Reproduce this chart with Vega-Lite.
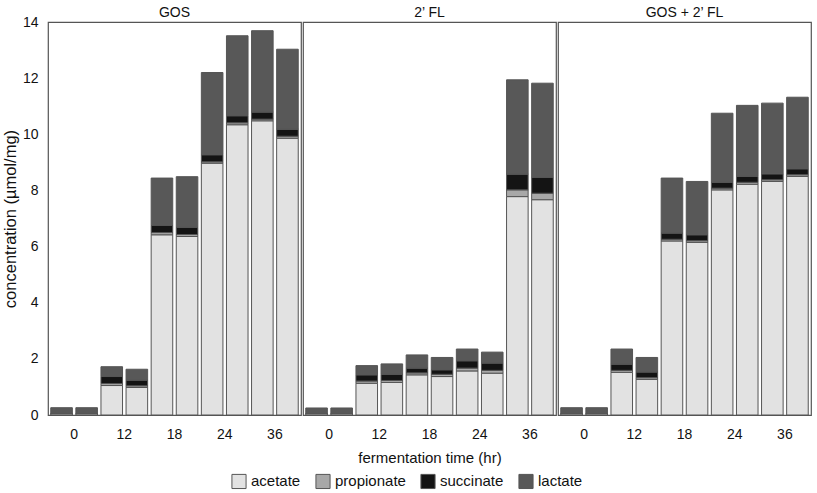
{
  "$schema": "https://vega.github.io/schema/vega-lite/v6.json",
  "background": "white",
  "padding": {"left": 2, "top": 6, "right": 3, "bottom": 2},
  "config": {
    "font": "Liberation Sans",
    "view": {"stroke": "#555555", "strokeWidth": 1.2},
    "axis": {"labelColor": "#111111", "titleColor": "#111111", "labelFont": "Liberation Sans", "titleFont": "Liberation Sans"},
    "header": {"labelColor": "#111111", "titleColor": "#111111"},
    "legend": {"layout": {"bottom": {"anchor": "middle"}}}
  },
  "datasets": {
    "acids": [
      {"acid": "acetate", "rank": 1},
      {"acid": "propionate", "rank": 2},
      {"acid": "succinate", "rank": 3},
      {"acid": "lactate", "rank": 4}
    ]
  },
  "data": {
    "values": [
      {"substrate": "GOS", "time": "0", "rep": "a", "acetate": 0.05, "propionate": 0, "succinate": 0, "lactate": 0.21},
      {"substrate": "GOS", "time": "0", "rep": "b", "acetate": 0.05, "propionate": 0, "succinate": 0, "lactate": 0.21},
      {"substrate": "GOS", "time": "12", "rep": "a", "acetate": 1.05, "propionate": 0.07, "succinate": 0.25, "lactate": 0.35},
      {"substrate": "GOS", "time": "12", "rep": "b", "acetate": 0.98, "propionate": 0.06, "succinate": 0.2, "lactate": 0.39},
      {"substrate": "GOS", "time": "18", "rep": "a", "acetate": 6.42, "propionate": 0.08, "succinate": 0.25, "lactate": 1.69},
      {"substrate": "GOS", "time": "18", "rep": "b", "acetate": 6.36, "propionate": 0.07, "succinate": 0.25, "lactate": 1.81},
      {"substrate": "GOS", "time": "24", "rep": "a", "acetate": 8.97, "propionate": 0.05, "succinate": 0.25, "lactate": 2.93},
      {"substrate": "GOS", "time": "24", "rep": "b", "acetate": 10.34, "propionate": 0.07, "succinate": 0.25, "lactate": 2.85},
      {"substrate": "GOS", "time": "36", "rep": "a", "acetate": 10.48, "propionate": 0.06, "succinate": 0.25, "lactate": 2.9},
      {"substrate": "GOS", "time": "36", "rep": "b", "acetate": 9.86, "propionate": 0.07, "succinate": 0.25, "lactate": 2.85},
      {"substrate": "2’ FL", "time": "0", "rep": "a", "acetate": 0.05, "propionate": 0, "succinate": 0, "lactate": 0.2},
      {"substrate": "2’ FL", "time": "0", "rep": "b", "acetate": 0.05, "propionate": 0, "succinate": 0, "lactate": 0.2},
      {"substrate": "2’ FL", "time": "12", "rep": "a", "acetate": 1.13, "propionate": 0.08, "succinate": 0.22, "lactate": 0.33},
      {"substrate": "2’ FL", "time": "12", "rep": "b", "acetate": 1.16, "propionate": 0.07, "succinate": 0.22, "lactate": 0.37},
      {"substrate": "2’ FL", "time": "18", "rep": "a", "acetate": 1.43, "propionate": 0.07, "succinate": 0.17, "lactate": 0.47},
      {"substrate": "2’ FL", "time": "18", "rep": "b", "acetate": 1.37, "propionate": 0.08, "succinate": 0.16, "lactate": 0.44},
      {"substrate": "2’ FL", "time": "24", "rep": "a", "acetate": 1.57, "propionate": 0.1, "succinate": 0.26, "lactate": 0.42},
      {"substrate": "2’ FL", "time": "24", "rep": "b", "acetate": 1.49, "propionate": 0.1, "succinate": 0.26, "lactate": 0.39},
      {"substrate": "2’ FL", "time": "36", "rep": "a", "acetate": 7.78, "propionate": 0.24, "succinate": 0.56, "lactate": 3.36},
      {"substrate": "2’ FL", "time": "36", "rep": "b", "acetate": 7.67, "propionate": 0.23, "succinate": 0.56, "lactate": 3.36},
      {"substrate": "GOS + 2’ FL", "time": "0", "rep": "a", "acetate": 0.05, "propionate": 0, "succinate": 0, "lactate": 0.21},
      {"substrate": "GOS + 2’ FL", "time": "0", "rep": "b", "acetate": 0.05, "propionate": 0, "succinate": 0, "lactate": 0.21},
      {"substrate": "GOS + 2’ FL", "time": "12", "rep": "a", "acetate": 1.52, "propionate": 0.07, "succinate": 0.22, "lactate": 0.54},
      {"substrate": "GOS + 2’ FL", "time": "12", "rep": "b", "acetate": 1.27, "propionate": 0.06, "succinate": 0.2, "lactate": 0.52},
      {"substrate": "GOS + 2’ FL", "time": "18", "rep": "a", "acetate": 6.2, "propionate": 0.06, "succinate": 0.22, "lactate": 1.96},
      {"substrate": "GOS + 2’ FL", "time": "18", "rep": "b", "acetate": 6.15, "propionate": 0.06, "succinate": 0.21, "lactate": 1.9},
      {"substrate": "GOS + 2’ FL", "time": "24", "rep": "a", "acetate": 8.02, "propionate": 0.06, "succinate": 0.21, "lactate": 2.46},
      {"substrate": "GOS + 2’ FL", "time": "24", "rep": "b", "acetate": 8.22, "propionate": 0.07, "succinate": 0.21, "lactate": 2.53},
      {"substrate": "GOS + 2’ FL", "time": "36", "rep": "a", "acetate": 8.32, "propionate": 0.06, "succinate": 0.21, "lactate": 2.52},
      {"substrate": "GOS + 2’ FL", "time": "36", "rep": "b", "acetate": 8.5, "propionate": 0.06, "succinate": 0.21, "lactate": 2.55}
    ]
  },
  "transform": [
    {"fold": ["acetate", "propionate", "succinate", "lactate"], "as": ["acid", "value"]},
    {"lookup": "acid", "from": {"data": {"name": "acids"}, "key": "acid", "fields": ["rank"]}}
  ],
  "facet": {
    "column": {
      "field": "substrate",
      "type": "nominal",
      "sort": ["GOS", "2’ FL", "GOS + 2’ FL"],
      "header": {
        "title": "fermentation time (hr)",
        "titleOrient": "bottom",
        "labelOrient": "top",
        "labelFontSize": 14,
        "labelFontWeight": "normal",
        "labelPadding": 1,
        "titleFontSize": 15,
        "titleFontWeight": "normal",
        "titlePadding": 0
      }
    }
  },
  "spacing": 0,
  "spec": {
    "width": 253,
    "height": 393,
    "mark": {"type": "bar", "stroke": "#555555", "strokeWidth": 1},
    "encoding": {
      "x": {
        "field": "time",
        "type": "ordinal",
        "sort": ["0", "12", "18", "24", "36"],
        "scale": {"paddingInner": 0, "paddingOuter": 0.02},
        "axis": {"title": null, "labelAngle": 0, "ticks": false, "domain": false, "labelFontSize": 14, "labelPadding": 10}
      },
      "xOffset": {
        "field": "rep",
        "type": "nominal",
        "scale": {"paddingInner": 0.14, "paddingOuter": 0.07}
      },
      "y": {
        "field": "value",
        "type": "quantitative",
        "stack": "zero",
        "scale": {"domain": [0, 14], "nice": false},
        "axis": {
          "title": "concentration (µmol/mg)",
          "grid": false,
          "ticks": false,
          "domain": false,
          "values": [0, 2, 4, 6, 8, 10, 12, 14],
          "labelFontSize": 14,
          "labelPadding": 9,
          "titleFontSize": 16.5,
          "titleFontWeight": "normal",
          "titlePadding": 4
        }
      },
      "order": {"field": "rank", "type": "quantitative", "sort": "ascending"},
      "color": {
        "field": "acid",
        "type": "nominal",
        "scale": {
          "domain": ["acetate", "propionate", "succinate", "lactate"],
          "range": ["#e2e2e2", "#a8a8a8", "#141414", "#585858"]
        },
        "legend": {
          "orient": "bottom",
          "direction": "horizontal",
          "title": null,
          "symbolType": "square",
          "symbolSize": 200,
          "symbolStrokeColor": "#555555",
          "symbolStrokeWidth": 1,
          "labelFontSize": 15,
          "labelColor": "#111111",
          "columnPadding": 12,
          "offset": 7
        }
      }
    }
  }
}
